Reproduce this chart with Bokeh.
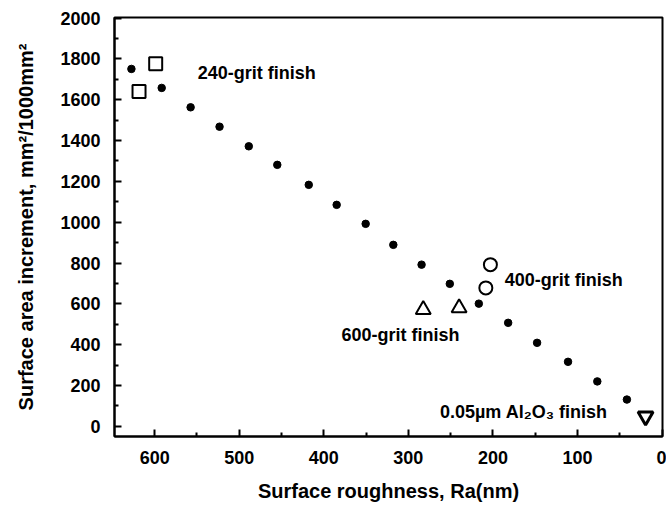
from bokeh.plotting import figure
from bokeh.models import Range1d, FixedTicker, ColumnDataSource
from bokeh.core.properties import value
from bokeh.embed import file_html
from bokeh.resources import INLINE

# Model line (dotted)
model_ra = [627.5, 591.7, 557.5, 523.3, 488.7, 455.0, 417.8, 384.8, 350.5,
            317.8, 284.4, 251.0, 216.7, 182.0, 147.8, 111.2, 76.6, 41.6]
model_area = [1751, 1658, 1563, 1468, 1372, 1281, 1183, 1085, 992,
              889, 792, 698, 601, 507, 409, 316, 220, 131]

# Measured finishes
grit240_ra = [618.5, 598.8]
grit240_area = [1641, 1776]
grit400_ra = [203.0, 208.4]
grit400_area = [792, 678]
grit600_ra = [282.4, 240.0]
grit600_area = [572, 580]
alumina_ra = [19.5]
alumina_area = [49]

label_texts = ["240-grit finish", "400-grit finish", "600-grit finish", "0.05\u00b5m Al\u2082O\u2083 finish"]
label_ra = [549, 186, 379, 262.7]
label_area = [1733, 719, 449, 72]

x_ticks = [0, 100, 200, 300, 400, 500, 600]
y_ticks = [0, 200, 400, 600, 800, 1000, 1200, 1400, 1600, 1800, 2000]

FONT = "Liberation Sans"

p = figure(width=666, height=508, output_backend="svg", toolbar_location=None,
           x_range=Range1d(647.5, -0.5), y_range=Range1d(-50, 2003),
           min_border_left=114, min_border_right=4, min_border_top=17, min_border_bottom=72)

p.grid.visible = False
p.outline_line_color = "black"
p.outline_line_width = 2
p.background_fill_color = "white"
p.border_fill_color = "white"

for ax in (p.xaxis[0], p.yaxis[0]):
    ax.axis_line_width = 2
    ax.axis_line_color = "black"
    ax.major_tick_in = 7
    ax.major_tick_out = 0
    ax.minor_tick_in = 4
    ax.minor_tick_out = 0
    ax.major_tick_line_width = 2
    ax.minor_tick_line_width = 2
    ax.major_label_text_font = FONT
    ax.major_label_text_font_style = "bold"
    ax.major_label_text_font_size = "18px"
    ax.major_label_text_color = "black"
    ax.axis_label_text_font = FONT
    ax.axis_label_text_font_style = "bold"
    ax.axis_label_text_font_size = "20px"
    ax.axis_label_text_color = "black"

p.xaxis[0].ticker = FixedTicker(ticks=x_ticks, minor_ticks=[50, 150, 250, 350, 450, 550])
p.yaxis[0].ticker = FixedTicker(ticks=y_ticks, minor_ticks=[100, 300, 500, 700, 900, 1100, 1300, 1500, 1700, 1900])
p.xaxis[0].axis_label = "Surface roughness, Ra(nm)"
p.yaxis[0].axis_label = "Surface area increment, mm\u00b2/1000mm\u00b2"
p.xaxis[0].major_label_standoff = 14
p.xaxis[0].axis_label_standoff = 13
p.yaxis[0].major_label_standoff = 14
p.yaxis[0].axis_label_standoff = 20

p.scatter(model_ra, model_area, marker="circle", size=7.5, color="black")
p.scatter(grit240_ra, grit240_area, marker="square", size=13, fill_color="white",
          line_color="black", line_width=2)
p.scatter(grit400_ra, grit400_area, marker="circle", size=13, fill_color="white",
          line_color="black", line_width=2)
p.scatter(grit600_ra, grit600_area, marker="triangle", size=15, fill_color="white",
          line_color="black", line_width=2)
p.scatter(alumina_ra, alumina_area, marker="inverted_triangle", size=15, fill_color="white",
          line_color="black", line_width=3)

src = ColumnDataSource(dict(x=label_ra, y=label_area, t=label_texts))
p.text(x="x", y="y", text="t", source=src, text_font=value(FONT), text_font_style="bold",
       text_font_size="18px", text_align="left", text_baseline="middle", text_color="black")

open("out.html", "w").write(file_html(p, INLINE))
